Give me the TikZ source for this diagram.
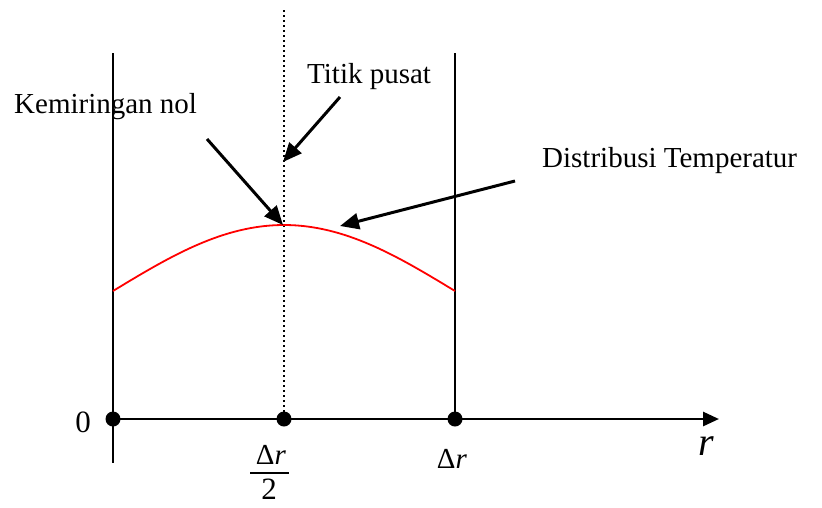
\documentclass[tikz,border=0pt]{standalone}
\usepackage{fontspec}
\setmainfont{Liberation Serif}
\usetikzlibrary{arrows.meta}
\begin{document}
\begin{tikzpicture}[x=1pt,y=-1pt,
  lbl/.style={inner sep=0pt,font=\fontsize{29}{34}\selectfont},
  numlbl/.style={inner sep=0pt,font=\fontsize{31}{36}\selectfont},
  bigr/.style={inner sep=0pt,font=\fontsize{40}{46}\selectfont\itshape},
  wall/.style={line width=2.6pt},
  pt/.style={circle,fill=black,inner sep=0pt,minimum size=15pt},
  callout/.style={line width=3pt,-{Triangle[length=19pt,width=16pt]}},
  axisline/.style={line width=2.8pt,-{Triangle[length=16pt,width=14pt]}}]
\useasboundingbox (0,0) rectangle (822,507);
% walls
\coordinate (lt) at (113,53);
\coordinate (lb) at (113,463);
\coordinate (rt) at (455,53);
\coordinate (ct) at (284,10);
\draw[wall] (lt) -- (lb);
% axis points
\node[pt] (p0) at (113,419) {};
\node[pt] (pm) at (284,419) {};
\node[pt] (pr) at (455,419) {};
\coordinate (axend) at (719,419);
\draw[wall] (rt) -- (pr.center);
\draw[line width=2.4pt,dash pattern=on 2.2pt off 2.8pt] (ct) -- (pm.center);
\draw[axisline] (p0.center) -- (axend);
% temperature distribution
\draw[red,line width=1.8pt] plot[domain=113:455,samples=80,smooth] (\x,{225+66*(1-cos(90*(\x-284)/171))});
% labels
\node[numlbl,anchor=center] (zero) at (83,422) {0};
\node[lbl,anchor=base] (dr2) at (271,464) {Δ\textit{r}};
\coordinate (barl) at (250,473);
\coordinate (barr) at (289,473);
\draw[line width=1.6pt] (barl) -- (barr);
\node[numlbl,anchor=base] (two) at (269,499) {2};
\node[lbl,anchor=base] (dr) at (452,468) {Δ\textit{r}};
\node[bigr,anchor=base] (rr) at (706,455) {r};
\node[lbl,anchor=base west] (kem) at (14,113) {Kemiringan nol};
\node[lbl,anchor=base west] (tit) at (307,83) {Titik pusat};
\node[lbl,anchor=base west] (dis) at (542,167) {Distribusi Temperatur};
% callouts
\coordinate (kemA) at (207,139);
\coordinate (kemB) at (283,225);
\coordinate (titA) at (340,97);
\coordinate (titB) at (283,162);
\coordinate (disA) at (515,181);
\coordinate (disB) at (340,226);
\draw[callout] (kemA) -- (kemB);
\draw[callout] (titA) -- (titB);
\draw[callout] (disA) -- (disB);
\end{tikzpicture}
\end{document}
